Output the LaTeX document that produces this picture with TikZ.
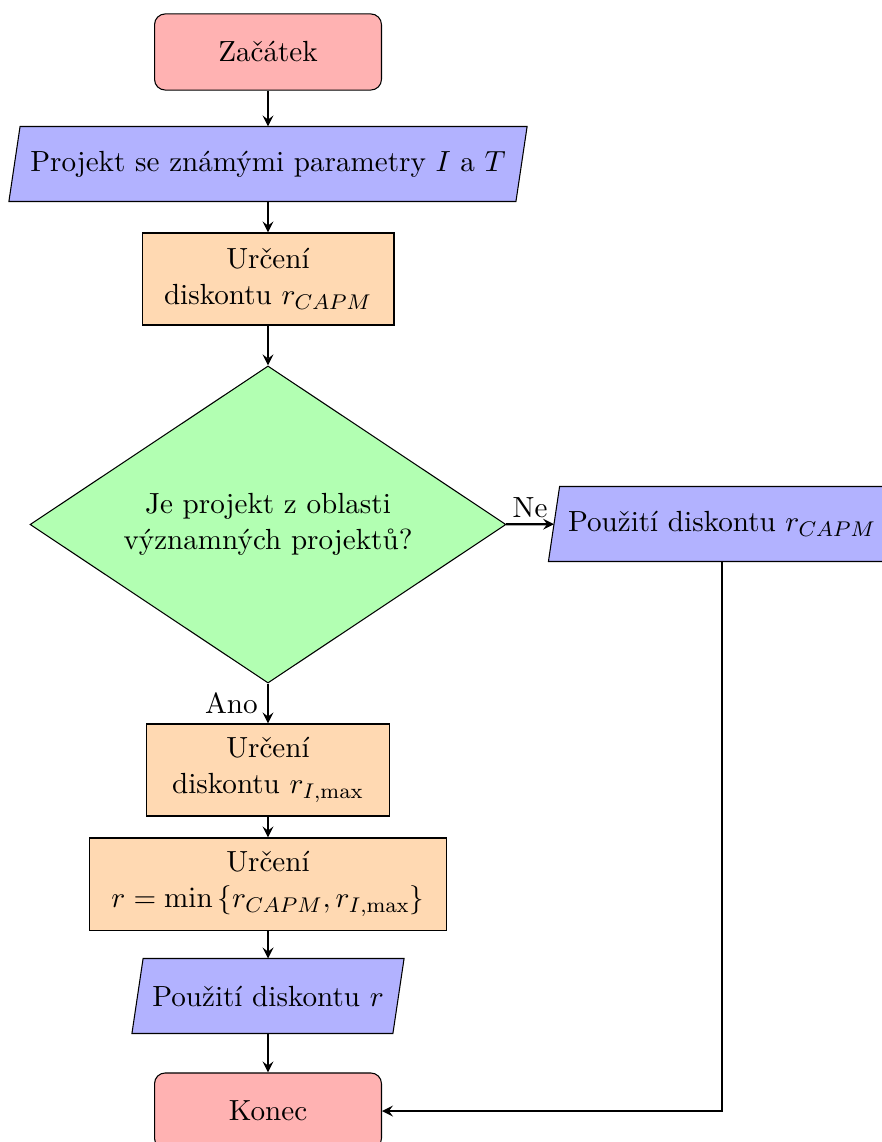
\documentclass[tikz,border=0pt]{standalone}
\usetikzlibrary{shapes.geometric,arrows,backgrounds}
\tikzset{
  base/.style={draw=black, text=black, align=center, inner sep=2pt,
    font=\fontsize{10.95pt}{13.6pt}\selectfont},
  startstop/.style={base, rectangle, rounded corners, fill=red!30,
    minimum width=85.3pt, minimum height=28.6pt},
  iobox/.style={base, rectangle, draw=none, minimum height=27.8pt},
  ioshape/.style={draw=black, fill=blue!30},
  process/.style={base, rectangle, fill=orange!30, minimum height=34.6pt},
  decision/.style={base, diamond, aspect=1.5, fill=green!30, minimum width=178.9pt,
    minimum height=119.2pt},
  arrow/.style={thick, ->, >=stealth},
  lbl/.style={font=\fontsize{10.95pt}{13.6pt}\selectfont, inner sep=2pt}
}
\newcommand{\ioframe}[1]{%
  \path[ioshape] ([xshift=2.1pt]#1.north west) -- ([xshift=2.1pt]#1.north east)
    -- ([xshift=-2.1pt]#1.south east) -- ([xshift=-2.1pt]#1.south west) -- cycle;}
\begin{document}
\begin{tikzpicture}[x=0.3759pt, y=-0.3759pt]
\clip (0,0) rectangle (881,1142);
\node[startstop] (start) at (268,52) {Začátek};
\node[iobox, minimum width=190.2pt] (in1) at (268,164) {Projekt se známými parametry $I$ a $T$};
\node[process, minimum width=94.7pt] (pro1) at (268,279) {Určení\\diskontu $r_{CAPM}$};
\node[decision] (dec1) at (268,524.5) {Je projekt z oblasti\\významných projektů?};
\node[iobox, minimum width=125.9pt] (out1) at (722,524) {Použití diskontu $r_{CAPM}$};
\node[process, minimum width=91.0pt] (pro2) at (268,770) {Určení\\diskontu $r_{I,\max}$};
\node[process, minimum width=134.2pt] (pro3) at (268,884) {Určení\\$r=\min\left\{r_{CAPM},r_{I,\max}\right\}$};
\node[iobox, minimum width=97.7pt] (out2) at (268,996) {Použití diskontu $r$};
\node[startstop] (stop) at (268,1111) {Konec};

\begin{scope}[on background layer]
  \ioframe{in1}
  \ioframe{out1}
  \ioframe{out2}
\end{scope}

\draw[arrow] (start) -- (in1);
\draw[arrow] (in1) -- (pro1);
\draw[arrow] (pro1) -- (dec1);
\draw[arrow] (dec1) -- node[lbl, anchor=south, pos=0.5] {Ne} (out1);
\draw[arrow] (dec1) -- node[lbl, anchor=east, pos=0.5, xshift=-1.5pt] {Ano} (pro2);
\draw[arrow] (pro2) -- (pro3);
\draw[arrow] (pro3) -- (out2);
\draw[arrow] (out2) -- (stop);
\draw[arrow] (out1) |- (stop);
\end{tikzpicture}
\end{document}
